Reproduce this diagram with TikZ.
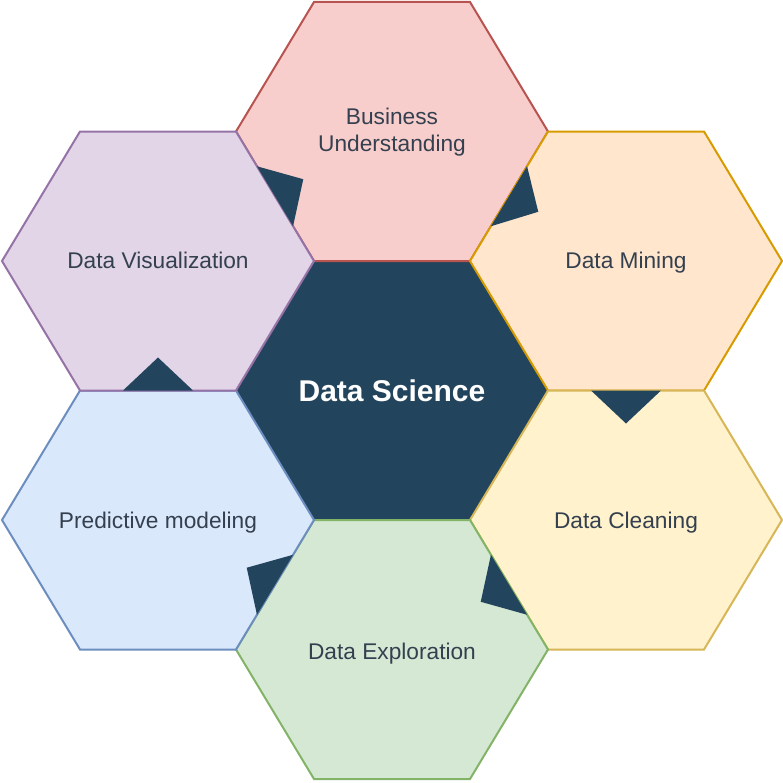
\documentclass[tikz,border=0pt]{standalone}
\usepackage{fontspec}
\setmainfont{Liberation Sans}
\usetikzlibrary{calc}
\definecolor{navy}{HTML}{23445D}
\definecolor{txt}{HTML}{34404F}
\definecolor{busF}{HTML}{F8CECC}\definecolor{busD}{HTML}{B85450}
\definecolor{minF}{HTML}{FFE6CC}\definecolor{minD}{HTML}{D79B00}
\definecolor{clnF}{HTML}{FFF2CC}\definecolor{clnD}{HTML}{D6B656}
\definecolor{expF}{HTML}{D5E8D4}\definecolor{expD}{HTML}{82B366}
\definecolor{preF}{HTML}{DAE8FC}\definecolor{preD}{HTML}{6C8EBF}
\definecolor{visF}{HTML}{E1D5E7}\definecolor{visD}{HTML}{9673A6}
\tikzset{
  hexline/.style={line width=2bp, line join=miter},
  lbl/.style={text=txt, font=\fontsize{22.7bp}{27bp}\selectfont, align=center, inner sep=0pt},
  onelbl/.style={lbl, text height=16.3bp, text depth=0pt},
  mainlbl/.style={text=white, font=\fontsize{30bp}{34bp}\selectfont\bfseries, inner sep=0pt, text height=21.6bp, text depth=0pt},
  tri/.style={fill=navy, draw=none},
}
\newcommand{\hexpath}[2]{(#1-156,#2) -- (#1-78,#2-129.5) -- (#1+78,#2-129.5) -- (#1+156,#2) -- (#1+78,#2+129.5) -- (#1-78,#2+129.5) -- cycle}
\begin{document}
\begin{tikzpicture}[x=1bp,y=-1bp]
\useasboundingbox (0,0) rectangle (783,783);
% centre
\fill[navy] \hexpath{392}{390.5};
% surrounding hexagons
\draw[hexline, fill=busF, draw=busD] \hexpath{392}{131.5};
\draw[hexline, fill=minF, draw=minD] \hexpath{626}{261};
\draw[hexline, fill=clnF, draw=clnD] \hexpath{626}{520};
\draw[hexline, fill=expF, draw=expD] \hexpath{392}{649.5};
\draw[hexline, fill=preF, draw=preD] \hexpath{158}{520};
\draw[hexline, fill=visF, draw=visD] \hexpath{158}{261};
% labels
\node[mainlbl] (ds) at (392,391) {Data Science};
\node[lbl] (bu) at (392,132.5) {Business\\Understanding};
\node[onelbl] (dm) at (626,260) {Data Mining};
\node[onelbl] (dc) at (626,520) {Data Cleaning};
\node[onelbl] (de) at (392,651) {Data Exploration};
\node[onelbl] (pm) at (158,520) {Predictive modeling};
\node[onelbl] (dv) at (158,260) {Data Visualization};
% flow triangles
\fill[tri] (256.94,166.27) -- (293.06,226.23) -- (303.27,179.22) -- cycle;
\fill[tri] (527.06,166.27) -- (490.94,226.23) -- (538.27,211.78) -- cycle;
\fill[tri] (591,390.5) -- (661,390.5) -- (626,423.5) -- cycle;
\fill[tri] (490.94,554.77) -- (527.06,614.73) -- (480.73,601.78) -- cycle;
\fill[tri] (293.06,554.77) -- (256.94,614.73) -- (246.73,567.72) -- cycle;
\fill[tri] (123,390.5) -- (193,390.5) -- (158,357.5) -- cycle;
\end{tikzpicture}
\end{document}
